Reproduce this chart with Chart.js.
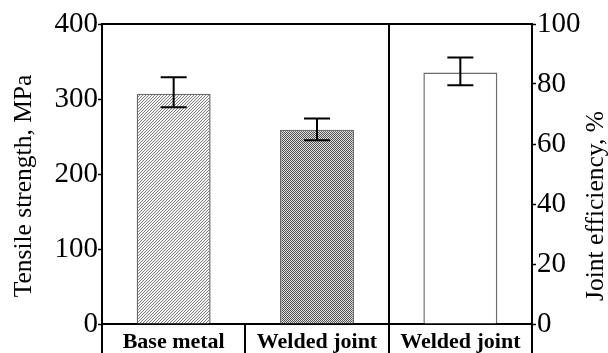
<!DOCTYPE html>
<html><head><meta charset="utf-8">
<script src="https://cdn.jsdelivr.net/npm/chart.js@4/dist/chart.umd.min.js"></script>
<style>html,body{margin:0;padding:0;background:#fff;overflow:hidden}#wrap{width:608px;height:353px;position:relative}</style>
</head><body><div id="wrap"><canvas id="c" width="608" height="353"></canvas></div>
<script>
// ---- data ----
const categories = ['Base metal', 'Welded joint', 'Welded joint'];
const tensileStrength = [307, 259, null];
const tensileLow = [289, 245, null];
const tensileHigh = [329, 274, null];
const jointEfficiency = [null, null, 83.8];
const efficiencyLow = [null, null, 79.6];
const efficiencyHigh = [null, null, 88.8];
const leftTickValues = [0, 100, 200, 300, 400];
const rightTickValues = [0, 20, 40, 60, 80, 100];
const leftTitle = 'Tensile strength, MPa';
const rightTitle = 'Joint efficiency, %';

const SERIF = "'Liberation Serif', 'Times New Roman', serif";

function makePattern(fn, size) {
  const c = document.createElement('canvas');
  c.width = size; c.height = size;
  const g = c.getContext('2d');
  const img = g.createImageData(size, size);
  for (let y = 0; y < size; y++) for (let x = 0; x < size; x++) {
    const v = fn(x, y);
    const k = (y * size + x) * 4;
    img.data[k] = img.data[k + 1] = img.data[k + 2] = v; img.data[k + 3] = 255;
  }
  g.putImageData(img, 0, 0);
  return g.createPattern(c, 'repeat');
}
const hatch = makePattern((x, y) => ((x + y) % 3 === 0 ? 125 : 245), 6);
const checker = makePattern((x, y) => ((x + y) % 2 === 0 ? 80 : 225), 6);

const errorBarPlugin = {
  id: 'errorBars',
  afterDatasetsDraw(chart) {
    const ctx = chart.ctx;
    chart.data.datasets.forEach((ds, di) => {
      const meta = chart.getDatasetMeta(di);
      const scale = chart.scales[ds.yAxisID];
      meta.data.forEach((bar, i) => {
        const lo = ds.errLow[i], hi = ds.errHigh[i];
        if (lo == null || hi == null) return;
        const yl = scale.getPixelForValue(lo), yh = scale.getPixelForValue(hi);
        const x = bar.x, hw = 13;
        ctx.save();
        ctx.strokeStyle = '#000'; ctx.lineWidth = 2;
        ctx.beginPath();
        ctx.moveTo(x, yl); ctx.lineTo(x, yh);
        ctx.moveTo(x - hw, yl); ctx.lineTo(x + hw, yl);
        ctx.moveTo(x - hw, yh); ctx.lineTo(x + hw, yh);
        ctx.stroke();
        ctx.restore();
      });
    });
  }
};

const framePlugin = {
  id: 'frame',
  afterDraw(chart) {
    const {ctx, chartArea} = chart;
    ctx.save();
    ctx.strokeStyle = '#000'; ctx.lineWidth = 2;
    ctx.beginPath();
    ctx.moveTo(chartArea.left - 1, chartArea.top);
    ctx.lineTo(chartArea.right + 1, chartArea.top);
    ctx.stroke();
    // axis titles (rotated, reading bottom-to-top)
    ctx.fillStyle = '#000';
    ctx.font = '25.5px ' + SERIF;
    ctx.textAlign = 'center'; ctx.textBaseline = 'middle';
    const midY = (chartArea.top + chartArea.bottom) / 2;
    ctx.save();
    ctx.translate(chart.scales.y.left + 24, midY + 12);
    ctx.rotate(-Math.PI / 2);
    ctx.fillText(leftTitle, 0, 0);
    ctx.restore();
    ctx.save();
    ctx.translate(chart.scales.y1.right - 12, midY + 32);
    ctx.rotate(-Math.PI / 2);
    ctx.fillText(rightTitle, 0, 0);
    ctx.restore();
    ctx.restore();
  }
};

new Chart(document.getElementById('c'), {
  type: 'bar',
  data: {
    labels: categories,
    datasets: [
      {
        label: 'Tensile strength',
        data: tensileStrength,
        errLow: tensileLow, errHigh: tensileHigh,
        yAxisID: 'y',
        backgroundColor: [hatch, checker, '#fff'],
        borderColor: '#6a6a6a', borderWidth: 1.5,
        grouped: false,
        categoryPercentage: 1, barPercentage: 0.516
      },
      {
        label: 'Joint efficiency',
        data: jointEfficiency,
        errLow: efficiencyLow, errHigh: efficiencyHigh,
        yAxisID: 'y1',
        backgroundColor: '#fff',
        borderColor: '#6a6a6a', borderWidth: 1.5,
        grouped: false,
        categoryPercentage: 1, barPercentage: 0.516
      }
    ]
  },
  options: {
    responsive: false,
    animation: false,
    devicePixelRatio: 1,
    layout: { padding: { top: 24, bottom: 0, left: 0, right: 0 } },
    plugins: { legend: { display: false }, tooltip: { enabled: false } },
    scales: {
      x: {
        position: 'bottom',
        offset: true,
        afterFit: s => { s.height = 29; },
        grid: {
          offset: true,
          drawOnChartArea: true,
          color: c => (c.index === 2 ? '#000' : 'rgba(0,0,0,0)'),
          lineWidth: 2,
          tickLength: 30,
          tickColor: '#000',
          tickWidth: 2
        },
        border: { display: true, color: '#000', width: 2 },
        ticks: {
          color: '#000',
          font: { family: SERIF, size: 22, weight: 'bold' },
          padding: -25,
          maxRotation: 0, autoSkip: false
        }
      },
      y: {
        position: 'left',
        min: 0, max: 400,
        afterFit: s => { s.width = 102; },
        afterBuildTicks: s => { s.ticks = leftTickValues.map(v => ({ value: v })); },
        grid: { drawOnChartArea: false, tickLength: 4, tickColor: '#000', tickWidth: 1.5 },
        border: { display: true, color: '#000', width: 2 },
        ticks: { color: '#000', font: { family: SERIF, size: 29 }, padding: 0 }
      },
      y1: {
        position: 'right',
        min: 0, max: 100,
        afterFit: s => { s.width = 76; },
        afterBuildTicks: s => { s.ticks = rightTickValues.map(v => ({ value: v })); },
        grid: { drawOnChartArea: false, tickLength: 4, tickColor: '#000', tickWidth: 1.5 },
        border: { display: true, color: '#000', width: 2 },
        ticks: { color: '#000', font: { family: SERIF, size: 29 }, padding: 1 }
      }
    }
  },
  plugins: [errorBarPlugin, framePlugin]
});
</script>
</body></html>
